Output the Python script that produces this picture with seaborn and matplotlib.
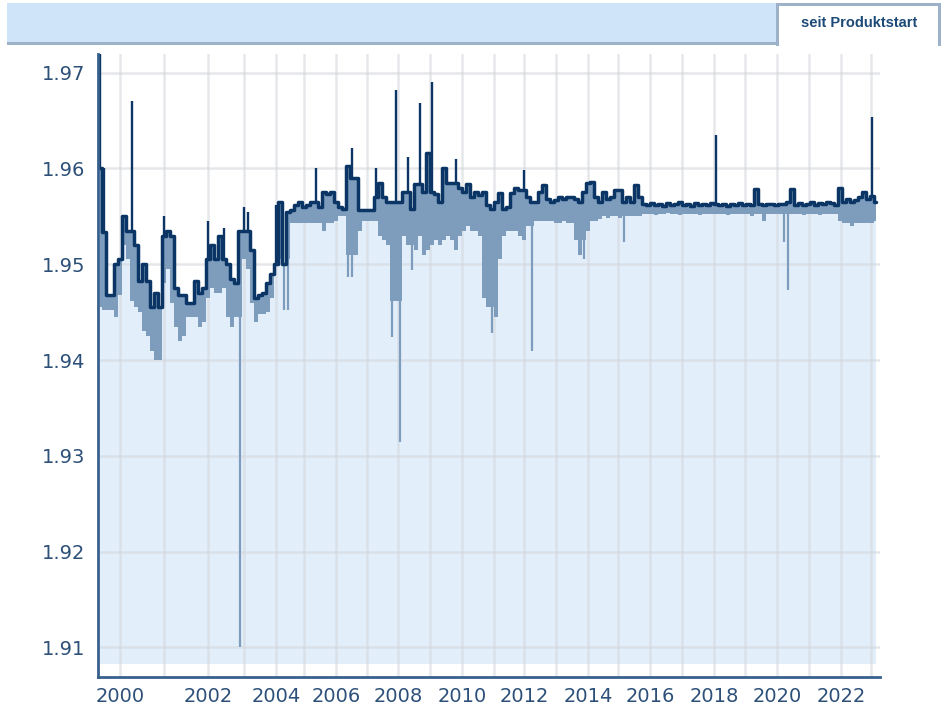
import numpy as np
import pandas as pd
import matplotlib
matplotlib.use("Agg")
import matplotlib.pyplot as plt
from matplotlib.patches import Rectangle
import seaborn as sns

# one high / low value per sample bin (chart index, not calendar time)
high = [1.972, 1.960, 1.9468, 1.9468, 1.950, 1.9505, 1.955, 1.9535, 1.967, 1.952,
        1.9483, 1.950, 1.9483, 1.9455, 1.947, 1.9455, 1.955, 1.9535, 1.953, 1.9475,
        1.9468, 1.9468, 1.946, 1.946, 1.9483, 1.947, 1.9475, 1.9545, 1.952, 1.9505,
        1.953, 1.9538, 1.950, 1.9485, 1.948, 1.9535, 1.956, 1.9555, 1.9515, 1.9465,
        1.9468, 1.947, 1.948, 1.949, 1.9562, 1.9565, 1.950, 1.9555, 1.9557, 1.9562,
        1.9565, 1.956, 1.9562, 1.9565, 1.960, 1.956, 1.9575, 1.9573, 1.9575, 1.9565,
        1.956, 1.9558, 1.9603, 1.9621, 1.959, 1.9557, 1.9557, 1.9557, 1.9557, 1.960,
        1.9585, 1.957, 1.9565, 1.9565, 1.9682, 1.9565, 1.9575, 1.9612, 1.9558, 1.9584,
        1.9668, 1.9575, 1.9616, 1.969, 1.9573, 1.9565, 1.960, 1.9585, 1.9585, 1.961,
        1.958, 1.9575, 1.9584, 1.957, 1.9575, 1.9572, 1.9575, 1.9562, 1.9558, 1.9565,
        1.9574, 1.9558, 1.956, 1.9574, 1.958, 1.9578, 1.9598, 1.957, 1.9565, 1.9565,
        1.9575, 1.9583, 1.9568, 1.9565, 1.9567, 1.957, 1.9568, 1.957, 1.957, 1.9568,
        1.9565, 1.9575, 1.9585, 1.9586, 1.957, 1.9565, 1.9575, 1.9568, 1.957, 1.9578,
        1.9578, 1.9565, 1.957, 1.9565, 1.9583, 1.957, 1.9563, 1.9562, 1.9564, 1.9562,
        1.9563, 1.9561, 1.9564, 1.9562, 1.9563, 1.9565, 1.9562, 1.9563, 1.9561, 1.9564,
        1.9562, 1.9563, 1.9562, 1.9564, 1.9635, 1.9562, 1.9563, 1.9561, 1.9563, 1.9562,
        1.9564, 1.9562, 1.9563, 1.9562, 1.9579, 1.9563, 1.9562, 1.9563, 1.9563, 1.9562,
        1.9563, 1.9563, 1.9565, 1.9579, 1.9562, 1.9564, 1.9562, 1.9563, 1.9565, 1.9562,
        1.9564, 1.9563, 1.9565, 1.9564, 1.9562, 1.958, 1.9565, 1.9568, 1.9565, 1.9567,
        1.957, 1.9575, 1.9568, 1.9654, 1.9565]

low = [1.9455, 1.9452, 1.9452, 1.9452, 1.9445, 1.9468, 1.952, 1.9505, 1.9462, 1.9455,
       1.945, 1.943, 1.9425, 1.941, 1.940, 1.940, 1.948, 1.9495, 1.946, 1.9435,
       1.942, 1.9425, 1.9445, 1.9445, 1.9445, 1.9435, 1.944, 1.9465, 1.9475, 1.947,
       1.947, 1.9475, 1.9445, 1.9435, 1.9445, 1.910, 1.9505, 1.9495, 1.946, 1.944,
       1.9448, 1.9448, 1.945, 1.9465, 1.950, 1.9505, 1.9452, 1.9452, 1.9543, 1.9543,
       1.9543, 1.9543, 1.9543, 1.9543, 1.9543, 1.9543, 1.9535, 1.9543, 1.9543, 1.9545,
       1.955, 1.955, 1.9487, 1.9487, 1.951, 1.9535, 1.9545, 1.9545, 1.9545, 1.9545,
       1.953, 1.9525, 1.952, 1.9424, 1.9462, 1.9315, 1.953, 1.952, 1.9494, 1.9515,
       1.953, 1.951, 1.9515, 1.952, 1.9525, 1.952, 1.9525, 1.953, 1.9525, 1.9515,
       1.953, 1.9535, 1.954, 1.9535, 1.9535, 1.953, 1.9465, 1.9455, 1.9428, 1.9445,
       1.9505, 1.953, 1.9535, 1.9535, 1.9535, 1.953, 1.9525, 1.954, 1.941, 1.9545,
       1.9545, 1.9545, 1.9545, 1.9545, 1.9543, 1.9543, 1.9545, 1.9543, 1.9543, 1.9525,
       1.951, 1.9505, 1.9535, 1.9545, 1.9545, 1.9547, 1.955, 1.9548, 1.955, 1.955,
       1.9548, 1.9523, 1.955, 1.955, 1.955, 1.955, 1.9553, 1.9552, 1.9553, 1.9551,
       1.9553, 1.9552, 1.9554, 1.9552, 1.9553, 1.9551, 1.9553, 1.9552, 1.9553, 1.9552,
       1.9551, 1.9553, 1.9552, 1.9552, 1.9553, 1.9552, 1.9553, 1.9551, 1.9553, 1.9552,
       1.9553, 1.9552, 1.9553, 1.955, 1.9552, 1.9553, 1.9545, 1.9553, 1.9553, 1.9553,
       1.9553, 1.9523, 1.9473, 1.9552, 1.9552, 1.9553, 1.9551, 1.9552, 1.9553, 1.9552,
       1.9551, 1.9553, 1.9552, 1.9552, 1.9552, 1.9545, 1.9543, 1.9543, 1.954, 1.9543,
       1.9543, 1.9543, 1.9543, 1.9543, 1.9545]

# sample index where each calendar year begins
years = list(range(2000, 2024))
year_pos = [5.5, 16.5, 27.5, 36.5, 44.5, 51.5, 59.5, 67.25, 75, 83, 91, 99, 106.5,
            114.5, 122.5, 130, 138, 146, 154, 161.75, 169.75, 177.75, 185.75, 193.25]

y_ticks = [1.91, 1.92, 1.93, 1.94, 1.95, 1.96, 1.97]

df = pd.DataFrame({"idx": np.arange(len(high)) + 0.5, "high": high, "low": low})

# isolated needles (single-bin extremes) are drawn as thin strokes
med_hi = df["high"].rolling(5, center=True, min_periods=1).median()
med_lo = df["low"].rolling(5, center=True, min_periods=1).median()
df["hi_spike"] = df["high"] - med_hi > 0.002
df["lo_spike"] = med_lo - df["low"] > 0.002
df["high_base"] = np.where(df["hi_spike"], med_hi, df["high"])
df["low_base"] = np.where(df["lo_spike"], np.minimum(med_lo, df["high_base"]), df["low"])

navy = "#0b3565"
mid = "#7e9dbd"
light = "#e2eefa"
axis_col = "#38608c"
label_col = "#2d5079"

sns.set_theme(style="white")
plt.rcParams["font.family"] = ["DejaVu Sans"]

fig = plt.figure(figsize=(9.47, 7.09), dpi=100)
ax = fig.add_axes([98 / 947, 1 - 677 / 709, 782 / 947, 623 / 709])

base = 1.9083
ax.fill_between(df["idx"], base, df["low_base"], step="mid", color=light, lw=0, zorder=1)
ax.fill_between(df["idx"], df["low_base"], df["high_base"], step="mid", color=mid,
                lw=0, zorder=2)
sp = df[df["lo_spike"]]
ax.vlines(sp["idx"], sp["low"], sp["low_base"], color=mid, lw=1.6, zorder=2)
sns.lineplot(data=df, x="idx", y="high_base", ax=ax, color=navy, lw=2.5,
             drawstyle="steps-mid", zorder=4)
sp = df[df["hi_spike"]]
ax.vlines(sp["idx"], sp["high_base"], sp["high"], color=navy, lw=1.7, zorder=4)

ax.set_xlim(0, 195.5)
ax.set_ylim(1.90692, 1.97195)
ax.set_xticks(year_pos)
ax.set_xticklabels([str(y) if y % 2 == 0 else "" for y in years])
ax.set_yticks(y_ticks)
ax.set_yticklabels([f"{v:.2f}" for v in y_ticks])
ax.set_xlabel("")
ax.set_ylabel("")

# grid sits above the light area fill but below the band and line
ax.grid(True, color="#d4d8dc", lw=1.8, alpha=0.6)
ax.set_axisbelow("line")

for s in ["top", "right"]:
    ax.spines[s].set_visible(False)
for s in ["left", "bottom"]:
    ax.spines[s].set_color(axis_col)
    ax.spines[s].set_linewidth(2)
    ax.spines[s].set_zorder(5)

ax.tick_params(axis="both", length=0, labelsize=14, labelcolor=label_col)
ax.tick_params(axis="y", pad=9)
ax.tick_params(axis="x", pad=7)

# header bar with tab
border = "#9db1c9"
fig.add_artist(Rectangle((7 / 947, 1 - 43 / 709), 770 / 947, 40 / 709,
                         transform=fig.transFigure, facecolor="#cfe4f8",
                         edgecolor="none"))
fig.add_artist(Rectangle((7 / 947, 1 - 45 / 709), 770 / 947, 3 / 709,
                         transform=fig.transFigure, facecolor=border,
                         edgecolor="none"))
fig.add_artist(Rectangle((777 / 947, 1 - 46 / 709), 164 / 947, 43 / 709,
                         transform=fig.transFigure, facecolor="white",
                         edgecolor="none"))
for (x0, y0, w, h) in [(776, 3, 3, 43), (938, 3, 3, 43), (776, 3, 165, 3)]:
    fig.add_artist(Rectangle((x0 / 947, 1 - (y0 + h) / 709), w / 947, h / 709,
                             transform=fig.transFigure, facecolor=border,
                             edgecolor="none"))
fig.text(859 / 947, 1 - 23 / 709, "seit Produktstart", ha="center", va="center",
         fontsize=10.5, fontweight="bold", color="#1d4a78",
         family=["Liberation Sans", "DejaVu Sans"])

fig.savefig("out.png", dpi=100)
